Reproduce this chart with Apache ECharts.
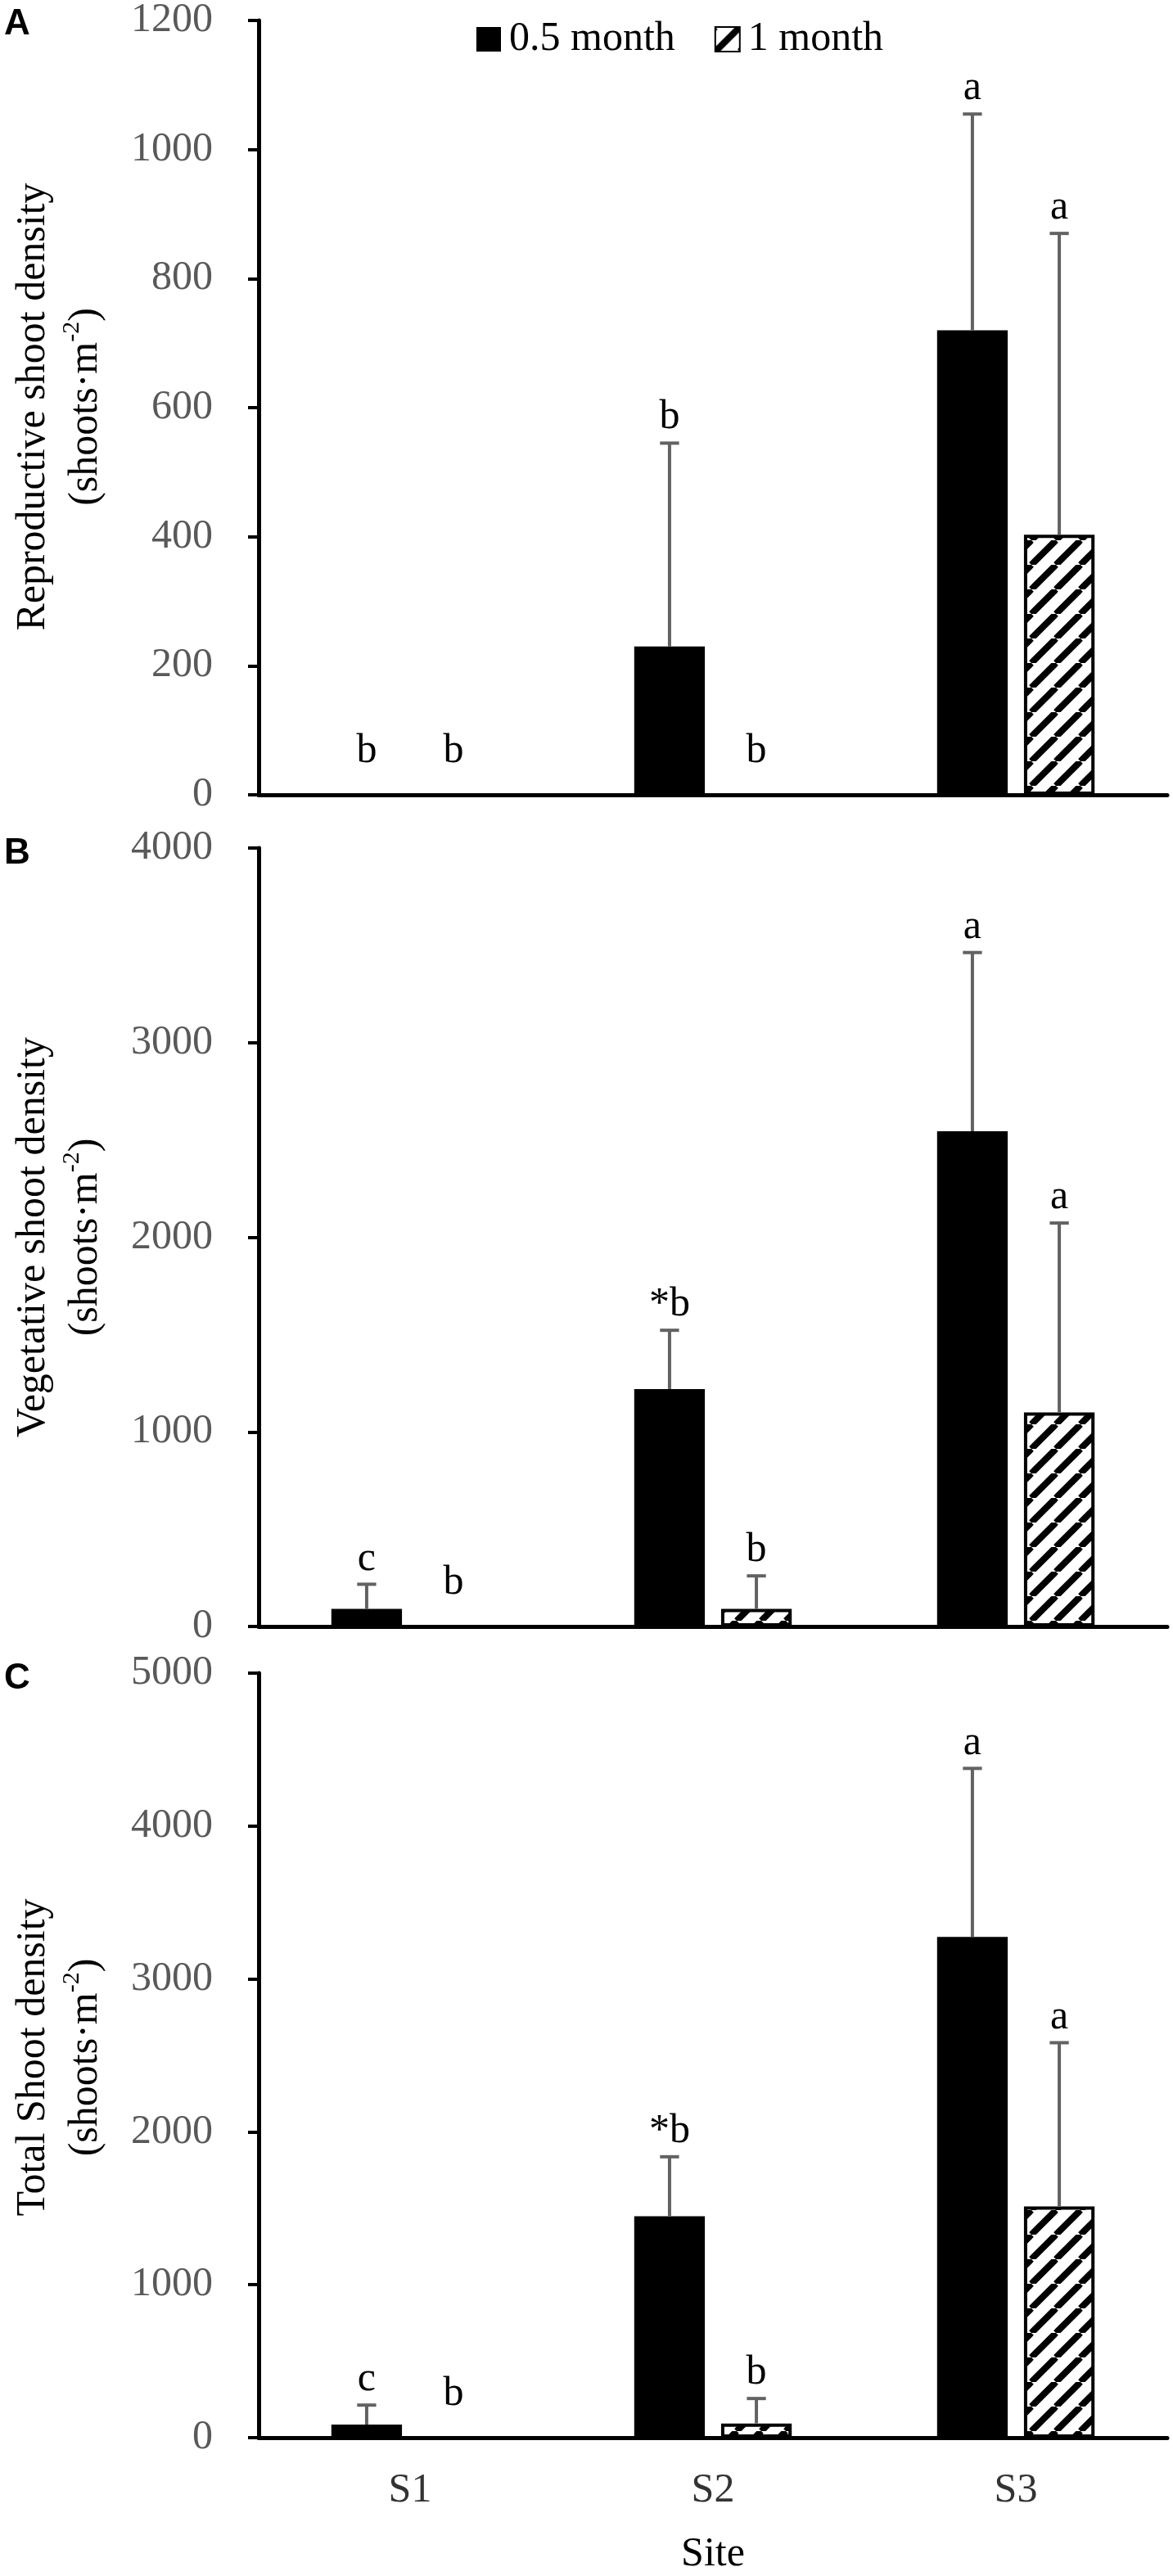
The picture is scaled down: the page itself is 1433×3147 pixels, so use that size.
<!DOCTYPE html>
<html>
<head>
<meta charset="utf-8">
<script src="https://cdn.jsdelivr.net/npm/echarts@6/dist/echarts.min.js"></script>
<style>
html,body{margin:0;padding:0;background:#fff;}
#chart{width:1433px;height:3147px;}
</style>
</head>
<body>
<div id="chart"></div>
<script>
// ---------- data ----------
const categories = ['S1', 'S2', 'S3'];
const seriesNames = ['0.5 month', '1 month'];

// Panel A: reproductive shoot density
const reproMean05 = [0, 230, 720];
const reproSd05 = [0, 315, 335];
const reproMean1 = [0, 0, 403];
const reproSd1 = [0, 0, 467];
const reproLetters05 = ['b', 'b', 'a'];
const reproLetters1 = ['b', 'b', 'a'];

// Panel B: vegetative shoot density
const vegMean05 = [90, 1220, 2545];
const vegSd05 = [127, 302, 918];
const vegMean1 = [0, 90, 1100];
const vegSd1 = [0, 170, 973];
const vegLetters05 = ['c', '*b', 'a'];
const vegLetters1 = ['b', 'b', 'a'];

// Panel C: total shoot density
const totMean05 = [85, 1448, 3275];
const totSd05 = [128, 389, 1102];
const totMean1 = [0, 93, 1512];
const totSd1 = [0, 163, 1071];
const totLetters05 = ['c', '*b', 'a'];
const totLetters1 = ['b', 'b', 'a'];

// y axis ticks
const yMaxA = 1200, yStepA = 200;
const yMaxB = 4000, yStepB = 1000;
const yMaxC = 5000, yStepC = 1000;

const panelLetters = ['A', 'B', 'C'];
const yTitles = ['Reproductive shoot density', 'Vegetative shoot density', 'Total Shoot density'];
const yUnit = '(shoots·m';
const yUnitSup = '-2';
const xTitle = 'Site';

// ---------- build ----------
const serif = '"Liberation Serif", "Times New Roman", serif';
const BAR_CAT_GAP = 0.48, BAR_GAP = 0.23;

function makeHatch() {
  const s = 30;
  const c = document.createElement('canvas');
  c.width = s; c.height = s;
  const g = c.getContext('2d');
  g.fillStyle = '#fff';
  g.fillRect(0, 0, s, s);
  g.strokeStyle = '#000';
  g.lineWidth = 8;
  for (const k of [-s, 0, s]) {
    g.beginPath();
    g.moveTo(k, s);
    g.lineTo(k + s, 0);
    g.stroke();
  }
  return c;
}
const hatch = makeHatch();

const panels = [
  { max: yMaxA, step: yStepA, m05: reproMean05, s05: reproSd05, m1: reproMean1, s1: reproSd1, l05: reproLetters05, l1: reproLetters1 },
  { max: yMaxB, step: yStepB, m05: vegMean05, s05: vegSd05, m1: vegMean1, s1: vegSd1, l05: vegLetters05, l1: vegLetters1 },
  { max: yMaxC, step: yStepC, m05: totMean05, s05: totSd05, m1: totMean1, s1: totSd1, l05: totLetters05, l1: totLetters1 }
];
const grids = [
  { left: 316, width: 1110, top: 23, height: 948 },
  { left: 316, width: 1110, top: 1036, height: 951 },
  { left: 316, width: 1110, top: 2044, height: 939 }
];

function errRenderer(means, sds, letters, side) {
  return function (params, api) {
    const i = params.dataIndex;
    const band = api.size([1, 0])[0];
    const barW = band * (1 - BAR_CAT_GAP) / (2 + BAR_GAP);
    const off = side * barW * (1 + BAR_GAP) / 2;
    const base = api.coord([i, means[i]]);
    const top = api.coord([i, means[i] + sds[i]]);
    const x = base[0] + off;
    const capHalf = barW * 0.135;
    const children = [];
    if (sds[i] > 0) {
      children.push({ type: 'line', shape: { x1: x, y1: base[1], x2: x, y2: top[1] }, style: { stroke: '#626262', lineWidth: 4 } });
      children.push({ type: 'line', shape: { x1: x - capHalf, y1: top[1], x2: x + capHalf, y2: top[1] }, style: { stroke: '#626262', lineWidth: 4 } });
    }
    children.push({
      type: 'text',
      style: {
        text: letters[i], x: x, y: top[1] - (sds[i] > 0 ? 6 : 28),
        align: 'center', verticalAlign: 'bottom',
        fontFamily: serif, fontSize: 50, fill: '#000'
      }
    });
    return { type: 'group', children: children };
  };
}

const xAxis = [], yAxis = [], series = [];
panels.forEach((p, i) => {
  xAxis.push({
    type: 'category', gridIndex: i, data: categories,
    axisLine: { lineStyle: { color: '#000', width: 5 } },
    axisTick: { length: 14, lineStyle: { color: '#000', width: 4 } },
    axisLabel: { show: i === 2, fontFamily: serif, fontSize: 50, color: '#333', margin: 40 },
    name: i === 2 ? xTitle : '', nameLocation: 'middle', nameGap: 118,
    nameTextStyle: { fontFamily: serif, fontSize: 50, color: '#000' }
  });
  yAxis.push({
    type: 'value', gridIndex: i, min: 0, max: p.max, interval: p.step,
    splitLine: { show: false },
    axisLine: { show: true, lineStyle: { color: '#000', width: 5 } },
    axisTick: { show: true, length: 13, lineStyle: { color: '#000', width: 4 } },
    axisLabel: { fontFamily: serif, fontSize: 50, color: '#595959', margin: 56, formatter: v => String(v) }
  });
  series.push({
    type: 'bar', name: seriesNames[0], xAxisIndex: i, yAxisIndex: i,
    data: p.m05, barGap: (BAR_GAP * 100) + '%', barCategoryGap: (BAR_CAT_GAP * 100) + '%',
    itemStyle: { color: '#000' }, silent: true
  });
  series.push({
    type: 'bar', name: seriesNames[1], xAxisIndex: i, yAxisIndex: i,
    data: p.m1, barGap: (BAR_GAP * 100) + '%', barCategoryGap: (BAR_CAT_GAP * 100) + '%',
    itemStyle: { color: { image: hatch, repeat: 'repeat' }, borderColor: '#000', borderWidth: 4 }, silent: true
  });
  series.push({
    type: 'custom', name: 'err05-' + i, xAxisIndex: i, yAxisIndex: i, z: 10, silent: true,
    data: p.m05.map((m, k) => [k, m + p.s05[k]]),
    renderItem: errRenderer(p.m05, p.s05, p.l05, -1)
  });
  series.push({
    type: 'custom', name: 'err1-' + i, xAxisIndex: i, yAxisIndex: i, z: 10, silent: true,
    data: p.m1.map((m, k) => [k, m + p.s1[k]]),
    renderItem: errRenderer(p.m1, p.s1, p.l1, 1)
  });
});

const graphic = [];
panels.forEach((p, i) => {
  const g = grids[i];
  graphic.push({
    type: 'text', x: 5, y: g.top + 7,
    style: { text: panelLetters[i], fontFamily: '"Liberation Sans", Arial, sans-serif', fontWeight: 'bold', fontSize: 44, fill: '#000', verticalAlign: 'middle' }
  });
  graphic.push({
    type: 'text', x: 73, y: g.top + g.height / 2, rotation: Math.PI / 2,
    style: {
      text: yTitles[i] + '\n' + yUnit + '{s|' + yUnitSup + '}' + '{n|)}',
      fontFamily: serif, fontSize: 50, lineHeight: 64, fill: '#000',
      align: 'center', verticalAlign: 'middle',
      rich: {
        s: { fontFamily: serif, fontSize: 30, lineHeight: 64, verticalAlign: 'top', fill: '#000' },
        n: { fontFamily: serif, fontSize: 50, lineHeight: 64, fill: '#000' }
      }
    }
  });
});

const chart = echarts.init(document.getElementById('chart'), null, { renderer: 'canvas' });
chart.setOption({
  animation: false,
  backgroundColor: '#fff',
  grid: grids,
  xAxis: xAxis,
  yAxis: yAxis,
  legend: {
    data: seriesNames, left: 577, top: 18, icon: 'rect',
    itemWidth: 30, itemHeight: 30, itemGap: 48,
    textStyle: { fontFamily: serif, fontSize: 50, color: '#000', padding: [0, 0, 0, 5] }
  },
  graphic: graphic,
  series: series
});
</script>
</body>
</html>
